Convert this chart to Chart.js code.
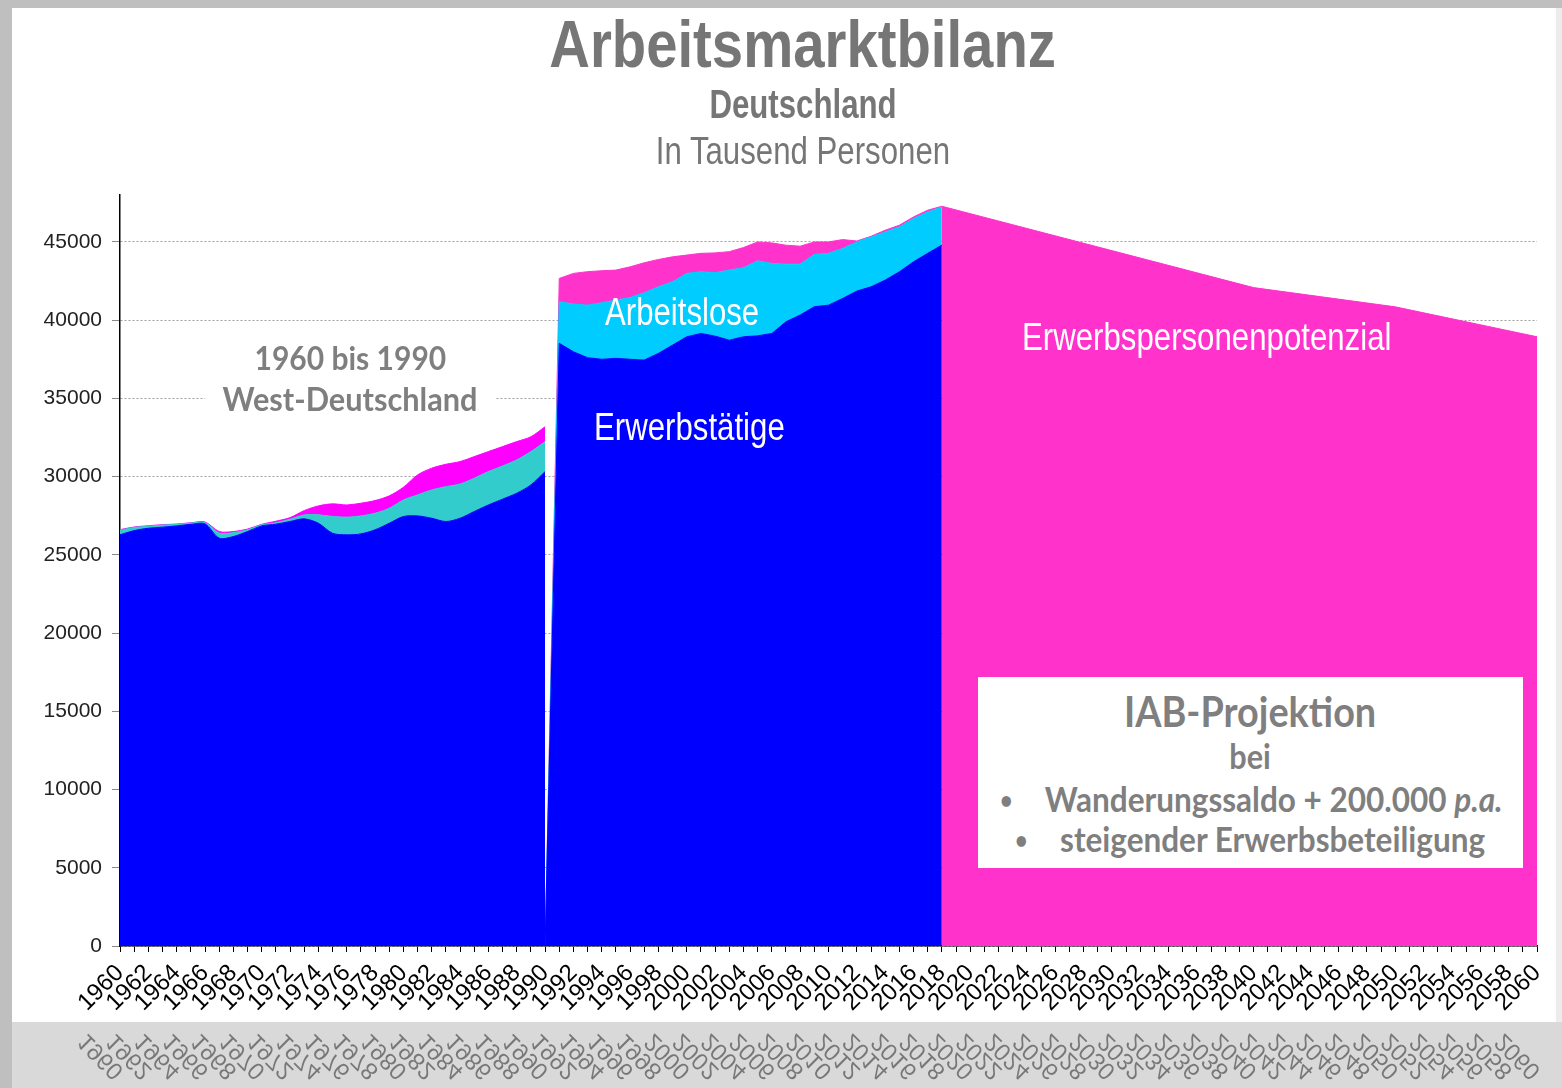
<!DOCTYPE html>
<html lang="de">
<head>
<meta charset="utf-8">
<title>Arbeitsmarktbilanz</title>
<script src="https://cdn.jsdelivr.net/npm/chart.js@4.4.1/dist/chart.umd.min.js"></script>
<style>
  html, body { margin: 0; padding: 0; }
  body { width: 1562px; height: 1088px; background: #d9d9d9; position: relative; overflow: hidden;
         font-family: 'Liberation Sans', Arial, sans-serif; }
  #frameTop { position: absolute; left: 0; top: 0; width: 1562px; height: 8px; background: #bfbfbf; }
  #frameLeft { position: absolute; left: 0; top: 0; width: 12px; height: 1088px; background: #bfbfbf; }
  #frameRight { position: absolute; left: 1556px; top: 8px; width: 6px; height: 1014px; background: #ececec; }
  #sheet { position: absolute; left: 12px; top: 8px; width: 1544px; height: 1014px; background: #fff; }
  #chartBox { position: absolute; left: 12px; top: 8px; width: 1543px; height: 1014px; }
  #chartBox canvas { -webkit-box-reflect: below 0 linear-gradient(rgba(0,0,0,.45), rgba(0,0,0,.45)); }
  .txt { position: absolute; white-space: nowrap; line-height: 1; }
  .center { left: 0; width: 1606px; text-align: center; }
  .narrow { display: inline-block; transform: scaleX(.8); }
  .narrowL { display: inline-block; transform: scaleX(.82); transform-origin: left center; }
  .grey { color: #767676; }
  .white { color: #fff; }
  .cal { font-family: Lato, 'Open Sans', sans-serif; font-weight: bold; color: #7f7f7f; }
  .calS { display: inline-block; transform: scaleX(.9); }
  .bullet { font-size: 24px; margin-right: 36px; vertical-align: 3px; }
  #iabBox { position: absolute; left: 978px; top: 677px; width: 545px; height: 191px; background: #fff; }
  .iab { position: absolute; left: 978px; width: 545px; text-align: center; }
</style>
</head>
<body>
<div id="frameTop"></div>
<div id="frameLeft"></div>
<div id="sheet"></div>
<div id="frameRight"></div>
<div id="chartBox"><canvas id="chart"></canvas></div>

<div class="txt center grey" style="top:10px;font-size:67px;font-weight:bold;"><span class="narrow" style="transform:scaleX(.84)">Arbeitsmarktbilanz</span></div>
<div class="txt center grey" style="top:84px;font-size:40px;font-weight:bold;"><span class="narrow" style="transform:scaleX(.78)">Deutschland</span></div>
<div class="txt center grey" style="top:131px;font-size:39px;"><span class="narrow" style="transform:scaleX(.8)">In Tausend Personen</span></div>

<div class="txt cal" style="left:200px;width:300px;text-align:center;top:341px;font-size:33px;"><span class="calS" style="transform:scaleX(.91)">1960 bis 1990</span></div>
<div class="txt cal" style="left:205px;width:290px;text-align:center;top:382px;font-size:33px;background:#fff;"><span class="calS" style="transform:scaleX(.93)">West-Deutschland</span></div>

<div class="txt white" style="left:605px;top:293px;font-size:38px;"><span class="narrowL">Arbeitslose</span></div>
<div class="txt white" style="left:594px;top:407px;font-size:39px;"><span class="narrowL" style="transform:scaleX(.8)">Erwerbstätige</span></div>
<div class="txt white" style="left:1022px;top:317px;font-size:39px;"><span class="narrowL" style="transform:scaleX(.8)">Erwerbspersonenpotenzial</span></div>

<div id="iabBox"></div>
<div class="txt cal iab" style="top:690px;font-size:42px;"><span class="calS">IAB-Projektion</span></div>
<div class="txt cal iab" style="top:739px;font-size:34px;"><span class="calS">bei</span></div>
<div class="txt cal iab" style="top:781px;font-size:35px;left:972px;"><span class="calS"><span class="bullet">•</span>Wanderungssaldo + 200.000 <i>p.a.</i></span></div>
<div class="txt cal iab" style="top:821px;font-size:35px;"><span class="calS"><span class="bullet">•</span>steigender Erwerbsbeteiligung</span></div>

<script>
(function () {
  'use strict';

  var FONT = "'Liberation Sans', Arial, sans-serif";

  var years = [];
  for (var yr = 1960; yr <= 2060; yr++) {
    years.push(String(yr));
  }

  // West-Deutschland 1960 - 1990, in Tausend Personen
  var westStart = 1960;
  var westErwerbstaetige = [26280, 26550, 26700, 26770, 26850, 26950, 26980, 26070, 26170, 26490,
    26850, 26960, 27130, 27300, 27020, 26380, 26280, 26340, 26600, 27020,
    27450, 27490, 27340, 27130, 27340, 27770, 28190, 28560, 28940, 29470, 30320];
  var westArbeitslose = [300, 200, 130, 130, 100, 80, 80, 320, 250, 110,
    70, 90, 150, 250, 540, 1070, 1130, 1150, 1060, 960,
    1060, 1340, 1810, 2230, 2190, 2130, 2130, 2120, 2130, 2130, 1920];
  var westStilleReserve = [30, 30, 30, 30, 20, 20, 40, 100, 70, 50,
    30, 100, 100, 280, 570, 810, 780, 810, 810, 790,
    810, 1280, 1390, 1430, 1430, 1380, 1280, 1240, 1170, 950, 950];

  // Deutschland 1990 (Bruch) - 2018
  var deStart = 1990;
  var deErwerbstaetige = [0, 38520, 37980, 37600, 37500, 37560, 37500, 37450, 37880, 38410, 38940,
    39150, 38980, 38720, 38940, 39000, 39150, 39900, 40330, 40860, 40960,
    41390, 41860, 42130, 42560, 43090, 43730, 44270, 44800];
  var deArbeitslose = [0, 2660, 3050, 3360, 3610, 3720, 3950, 4300, 4250, 4040, 4050,
    3950, 4050, 4480, 4410, 4790, 4470, 3680, 3250, 3340, 3310,
    3190, 3140, 3190, 3080, 2870, 2770, 2650, 2440];
  var deStilleReserve = [0, 1490, 1960, 2140, 2050, 1920, 1960, 1920, 1750, 1600, 1170,
    1170, 1270, 1180, 1290, 1210, 1320, 1210, 1150, 800, 730,
    570, 60, 40, 110, 110, 100, 110, 40];

  // IAB-Projektion Erwerbspersonenpotenzial
  var projYears = [2018, 2040, 2050, 2060];
  var projValues = [47280, 42080, 40850, 38940];

  function placeRun(start, values) {
    var out = years.map(function () { return null; });
    values.forEach(function (v, i) { out[start - 1960 + i] = v; });
    return out;
  }

  function placeAt(yrs, values) {
    var out = years.map(function () { return null; });
    yrs.forEach(function (y, i) { out[y - 1960] = values[i]; });
    return out;
  }

  function area(label, data, color, stack, fill, tension) {
    return {
      label: label,
      data: data,
      stack: stack,
      fill: fill,
      backgroundColor: color,
      borderColor: color,
      borderWidth: 1,
      pointRadius: 0,
      pointHoverRadius: 0,
      tension: tension,
      spanGaps: false
    };
  }

  var datasets = [
    area('Erwerbstätige (West)', placeRun(westStart, westErwerbstaetige), '#0000ff', 'west', 'origin', 0.3),
    area('Arbeitslose (West)', placeRun(westStart, westArbeitslose), '#33cccc', 'west', '-1', 0.3),
    area('Stille Reserve (West)', placeRun(westStart, westStilleReserve), '#ff00ff', 'west', '-1', 0.3),
    area('Erwerbstätige', placeRun(deStart, deErwerbstaetige), '#0000ff', 'de', 'origin', 0),
    area('Arbeitslose', placeRun(deStart, deArbeitslose), '#00ccff', 'de', '-1', 0),
    area('Stille Reserve', placeRun(deStart, deStilleReserve), '#ff33cc', 'de', '-1', 0),
    area('Erwerbspersonenpotenzial', placeAt(projYears, projValues), '#ff33cc', 'proj', 'origin', 0)
  ];
  datasets[6].spanGaps = true;

  var ctx = document.getElementById('chart').getContext('2d');

  var myChart = new Chart(ctx, {
    type: 'line',
    data: {
      labels: years,
      datasets: datasets
    },
    options: {
      responsive: true,
      maintainAspectRatio: false,
      animation: false,
      events: [],
      layout: {
        padding: { left: 12, right: 18, top: 187, bottom: 0 }
      },
      plugins: {
        legend: { display: false },
        tooltip: { enabled: false },
        title: { display: false }
      },
      scales: {
        x: {
          type: 'category',
          offset: false,
          grid: {
            drawOnChartArea: false,
            drawTicks: true,
            tickLength: 6,
            tickColor: '#000'
          },
          border: { color: '#000', width: 1.5 },
          ticks: {
            autoSkip: false,
            maxRotation: 45,
            minRotation: 45,
            padding: 7,
            color: '#000',
            font: { family: FONT, size: 24 },
            callback: function (value, index) {
              return index % 2 === 0 ? this.getLabelForValue(value) : '';
            }
          },
          afterFit: function (scale) {
            // keep the plot area fixed, labels may overhang
            scale.height = 76;
            scale.paddingLeft = 0;
            scale.paddingRight = 0;
          }
        },
        y: {
          stacked: true,
          beginAtZero: true,
          max: 48000,
          bounds: 'data',
          grid: {
            color: '#a0a0a0',
            lineWidth: 1,
            tickLength: 8,
            tickColor: '#888',
            tickBorderDash: []
          },
          border: { color: '#000', width: 1.5, dash: [2, 2] },
          ticks: {
            stepSize: 5000,
            includeBounds: false,
            padding: 10,
            color: '#222',
            font: { family: FONT, size: 21 },
            callback: function (value) {
              return String(value);
            }
          },
          afterBuildTicks: function (scale) {
            scale.ticks = scale.ticks.filter(function (t) { return t.value % 5000 === 0; });
          },
          afterFit: function (scale) {
            scale.width = 96;
          }
        }
      }
    }
  });
}());
</script>
</body>
</html>
